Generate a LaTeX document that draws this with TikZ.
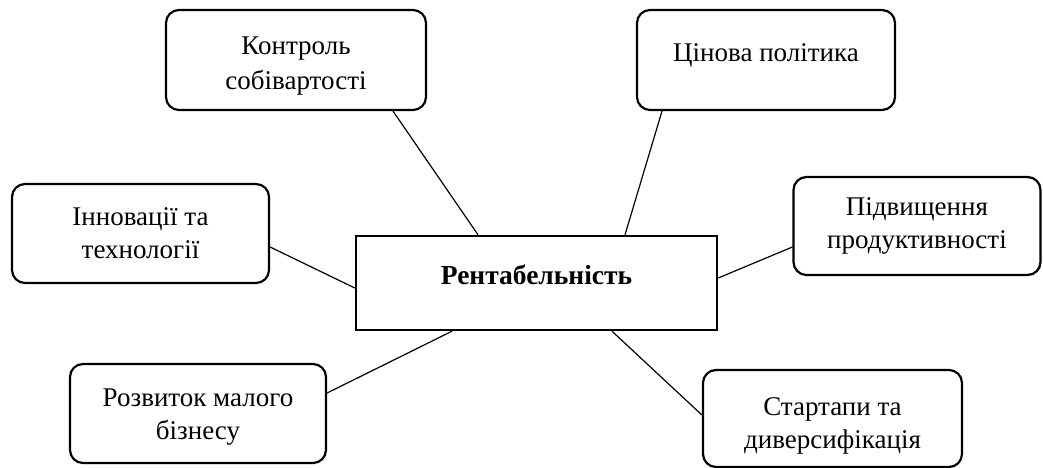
\documentclass[tikz,border=0pt]{standalone}
\usepackage{fontspec}
\setmainfont{Liberation Serif}
\usetikzlibrary{calc}
\newcommand{\lift}[1]{\rule{0pt}{#1}}
\tikzset{
  sidebox/.style={draw=black, line width=2.2pt, rounded corners=13pt, align=center,
    inner sep=0pt, font=\fontsize{27}{33}\selectfont},
  centerbox/.style={draw=black, line width=2.4pt, align=center, inner sep=0pt,
    font=\fontsize{27.5}{33}\selectfont\bfseries},
  link/.style={draw=black, line width=1.2pt}
}
\begin{document}
\begin{tikzpicture}[x=1pt,y=1pt]
\useasboundingbox (0,0) rectangle (1043,468);
\node[centerbox, minimum width=361pt, minimum height=94pt, text depth=16pt] (m) at (536.5,185) {Рентабельність};
\node[sidebox, minimum width=260pt, minimum height=100pt] (k) at (296,408) {\lift{29pt}Контроль\\[2pt]собівартості};
\node[sidebox, minimum width=258pt, minimum height=100pt, text depth=14pt] (c) at (766,408) {Цінова політика};
\node[sidebox, minimum width=257pt, minimum height=99pt] (i) at (140.5,234.5) {Інновації та\\технології};
\node[sidebox, minimum width=247pt, minimum height=98pt] (p) at (917,242) {Підвищення\\продуктивності};
\node[sidebox, minimum width=256pt, minimum height=99pt] (r) at (198,54.5) {\lift{24pt}Розвиток малого\\бізнесу};
\node[sidebox, minimum width=259pt, minimum height=97pt] (s) at (832.5,49.5) {\lift{33pt}Стартапи та\\диверсифікація};
\draw[link] ([xshift=97pt]k.south) -- ([xshift=-58.5pt]m.north);
\draw[link] ([xshift=-104pt]c.south) -- ([xshift=88.5pt]m.north);
\draw[link] ([yshift=-13.5pt]i.east) -- ([yshift=-5pt]m.west);
\draw[link] ([yshift=-21pt]p.west) -- ([yshift=5pt]m.east);
\draw[link] ([yshift=20.5pt]r.east) -- ([xshift=-84.5pt]m.south);
\draw[link] ([yshift=3.5pt]s.west) -- ([xshift=75.5pt]m.south);
\end{tikzpicture}
\end{document}
